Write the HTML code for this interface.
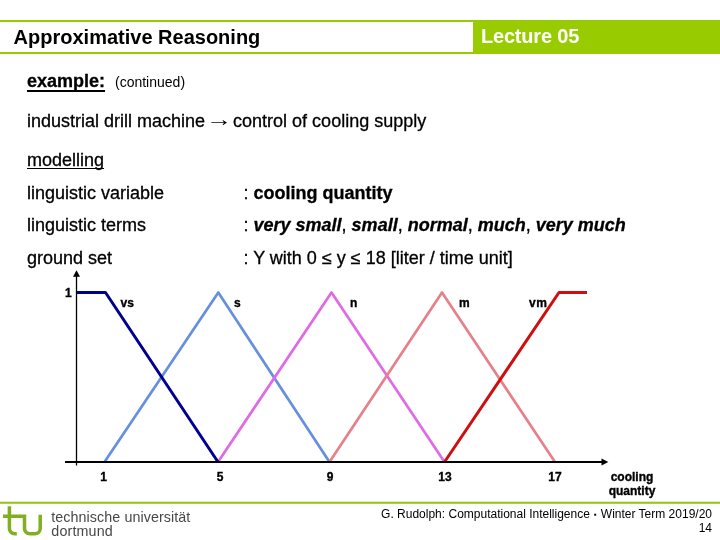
<!DOCTYPE html>
<html><head><meta charset="utf-8">
<style>
html,body{margin:0;padding:0;background:#fff;}
body{width:720px;height:540px;position:relative;overflow:hidden;font-family:"Liberation Sans",sans-serif;color:#000;}
.abs{position:absolute;white-space:nowrap;line-height:1;}
.t18{font-size:18px;-webkit-text-stroke:0.3px #000;}
.b{font-weight:bold;}
.bi{font-weight:bold;font-style:italic;}
.u{text-decoration:underline;text-decoration-skip-ink:none;}
</style></head><body>
<!-- header -->
<div class="abs" style="left:0;top:20px;width:720px;height:2px;background:#99cc00;"></div>
<div class="abs" style="left:0;top:52px;width:720px;height:2px;background:#99cc00;"></div>
<div class="abs" style="left:473px;top:20px;width:247px;height:34px;background:#99cc00;"></div>
<div id="title" class="abs b" style="left:13.6px;top:26.5px;font-size:20px;">Approximative Reasoning</div>
<div id="lec" class="abs b" style="left:481px;top:26.4px;font-size:20px;color:#fff;letter-spacing:-0.2px;">Lecture 05</div>

<div id="ex" class="abs b t18 u" style="left:27px;top:71.8px;text-underline-offset:2.6px;text-decoration-thickness:1.7px;">example:</div>
<div id="cont" class="abs" style="left:115px;top:75.3px;font-size:14px;">(continued)</div>
<div id="ind" class="abs t18" style="left:27px;top:111.6px;">industrial drill machine <span style="display:inline-block;transform:translate(0.2px,-1.5px) scale(1.45,1.15);-webkit-text-stroke:0;">→</span> control of cooling supply</div>
<div id="mod" class="abs t18 u" style="left:27px;top:150.6px;text-underline-offset:1.5px;text-decoration-thickness:1px;">modelling</div>
<div id="lv" class="abs t18" style="left:27px;top:183.7px;">linguistic variable</div>
<div id="lt" class="abs t18" style="left:27px;top:215.7px;">linguistic terms</div>
<div id="gs" class="abs t18" style="left:27px;top:248.7px;">ground set</div>
<div id="cq" class="abs t18" style="left:243.5px;top:183.7px;">: <span class="b">cooling quantity</span></div>
<div id="terms" class="abs t18" style="left:243.5px;top:215.7px;">: <span class="bi">very small</span>, <span class="bi">small</span>, <span class="bi">normal</span>, <span class="bi">much</span>, <span class="bi">very much</span></div>
<div id="yw" class="abs t18" style="left:243.5px;top:248.7px;">: Y with 0 ≤ y ≤ 18 [liter / time unit]</div>

<svg class="abs" style="left:0;top:0;" width="720" height="540" viewBox="0 0 720 540">
  <g fill="none" stroke-width="3" stroke-linejoin="round">
    <polyline points="104.5,462 218.3,292.5 329.5,462" stroke="#6690de" stroke-width="2.7"/>
    <polyline points="218,462 331.5,292.5 444.5,462" stroke="#e06ae6" stroke-width="2.7"/>
    <polyline points="329.5,462 442,292.5 555,462" stroke="#e6808a" stroke-width="2.7"/>
    <polyline points="76.5,292.5 105.5,292.5 218,462" stroke="#000090"/>
    <polyline points="444.5,462 559,292.5 587,292.5" stroke="#cc1010"/>
  </g>
  <line x1="76.5" y1="276" x2="76.5" y2="465.5" stroke="#000" stroke-width="1.3"/>
  <polygon points="76.5,270.3 73,276.8 80,276.8" fill="#000"/>
  <line x1="65" y1="462" x2="602" y2="462" stroke="#000" stroke-width="2"/>
  <polygon points="608.3,462 601.5,458.6 601.5,465.4" fill="#000"/>
  <g font-family="'Liberation Sans',sans-serif" font-weight="bold" font-size="12px" fill="#000" stroke="#000" stroke-width="0.35">
    <text x="65" y="296.7">1</text>
    <text x="120.5" y="306.5">vs</text>
    <text x="234" y="306.5">s</text>
    <text x="350" y="306.5">n</text>
    <text x="459" y="306.5">m</text>
    <text x="529" y="306.5" letter-spacing="0.5">vm</text>
    <text x="103.5" y="480.7" text-anchor="middle">1</text>
    <text x="220" y="480.7" text-anchor="middle">5</text>
    <text x="330" y="480.7" text-anchor="middle">9</text>
    <text x="445" y="480.7" text-anchor="middle">13</text>
    <text x="555" y="480.7" text-anchor="middle">17</text>
    <text x="632" y="481" text-anchor="middle">cooling</text>
    <text x="632" y="495" text-anchor="middle">quantity</text>
  </g>
  <!-- footer -->
  <rect x="0" y="501.7" width="720" height="2.1" fill="#99c41c"/>
  <g fill="none" stroke="#80b020" stroke-width="3.5">
    <path d="M9.4,506.2 V528.5 A5.3,5.3 0 0 0 14.7,533.8 H16.8"/>
    <path d="M3,516.3 H24.5 V528.5 A5.3,5.3 0 0 0 29.8,533.8 H34.9 A5.3,5.3 0 0 0 40.2,528.5 V514.7"/>
  </g>
</svg>
<div id="tu1" class="abs" style="left:51.3px;top:509.7px;font-size:14.3px;color:#484848;letter-spacing:0.07px;">technische universität</div>
<div id="tu2" class="abs" style="left:51.3px;top:524px;font-size:14.3px;color:#484848;letter-spacing:0.15px;">dortmund</div>
<div id="ft1" class="abs" style="right:8px;top:508px;font-size:12px;">G. Rudolph: Computational Intelligence <span style="display:inline-block;width:4.27px;font-size:8px;text-align:center;vertical-align:1.3px;line-height:1;">▪</span> Winter Term 2019/20</div>
<div id="ft2" class="abs" style="right:8px;top:522px;font-size:12px;">14</div>
</body></html>
